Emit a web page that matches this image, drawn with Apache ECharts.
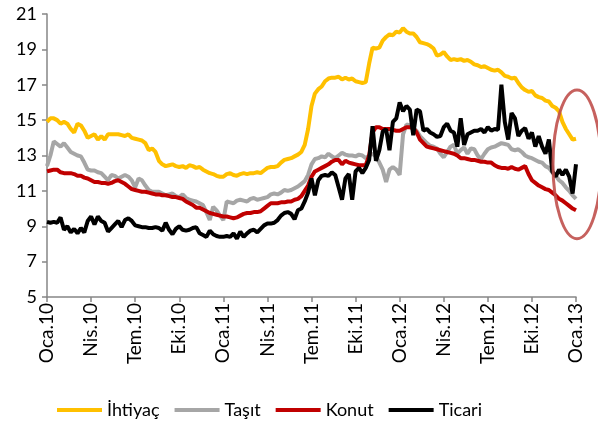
<!DOCTYPE html>
<html>
<head>
<meta charset="utf-8">
<script src="https://cdn.jsdelivr.net/npm/echarts@6/dist/echarts.min.js"></script>
<style>
  html, body { margin: 0; padding: 0; background: #fff; }
  #chart { width: 598px; height: 423px; }
</style>
</head>
<body>
<div id="chart"></div>
<script>
// ceyrek etiketleri (her 13 haftada bir)
const quarterLabels = ["Oca.10", "Nis.10", "Tem.10", "Eki.10", "Oca.11", "Nis.11", "Tem.11",
  "Eki.11", "Oca.12", "Nis.12", "Tem.12", "Eki.12", "Oca.13"];

// haftalik veriler (157 hafta)
const ihtiyac = [
  14.9, 15.1, 15.1, 15.0, 14.8, 14.9, 14.8, 14.5, 14.3, 14.8, 14.7, 14.4, 14.0, 14.1, 14.2, 13.9,
  14.1, 13.9, 14.2, 14.2, 14.2, 14.2, 14.15, 14.1, 14.2, 14.0, 13.95, 13.9, 13.85, 13.7, 13.3, 13.4,
  13.2, 12.7, 12.5, 12.4, 12.45, 12.5, 12.4, 12.35, 12.4, 12.3, 12.45, 12.4, 12.3, 12.35, 12.2, 12.1,
  12.0, 11.95, 11.85, 11.8, 11.8, 11.95, 12.0, 11.9, 11.85, 11.95, 12.0, 11.95, 12.0, 12.0, 12.05, 12.0,
  12.15, 12.3, 12.35, 12.35, 12.4, 12.6, 12.75, 12.8, 12.85, 12.95, 13.05, 13.2, 13.6, 14.5, 15.8, 16.5,
  16.75, 16.9, 17.2, 17.35, 17.4, 17.4, 17.45, 17.3, 17.4, 17.3, 17.35, 17.2, 17.15, 17.1, 17.15, 18.2,
  19.1, 19.05, 19.1, 19.5, 19.7, 19.85, 19.8, 20.0, 19.95, 20.2, 20.0, 19.9, 19.9, 19.7, 19.4, 19.35,
  19.3, 19.2, 19.05, 18.65, 18.7, 18.85, 18.6, 18.4, 18.45, 18.4, 18.45, 18.35, 18.4, 18.3, 18.15, 18.1,
  18.0, 18.05, 17.95, 17.85, 17.8, 17.85, 17.7, 17.5, 17.45, 17.35, 17.4, 17.1, 16.85, 16.7, 16.6, 16.65,
  16.4, 16.3, 16.25, 16.1, 16.05, 15.8, 15.7, 15.5, 14.9, 14.5, 14.2, 13.9, 13.95
];
const tasit = [
  12.4, 13.0, 13.8, 13.65, 13.5, 13.7, 13.45, 13.2, 13.1, 13.0, 12.95, 12.6, 12.2, 12.15, 12.15, 12.05,
  12.0, 11.8, 11.6, 11.9, 11.85, 11.7, 11.8, 11.9, 11.8, 11.6, 11.2, 11.7, 11.6, 11.3, 11.05, 10.95,
  10.95, 10.95, 10.85, 10.75, 10.8, 10.85, 10.7, 10.65, 10.8, 10.6, 10.5, 10.45, 10.4, 10.3, 10.2, 9.8,
  9.35, 10.1, 9.9, 9.6, 9.35, 10.4, 10.35, 10.3, 10.45, 10.5, 10.45, 10.4, 10.55, 10.6, 10.5, 10.55,
  10.6, 10.65, 10.8, 10.85, 10.8, 10.9, 11.05, 11.0, 11.05, 11.15, 11.25, 11.4, 11.55, 11.9, 12.5, 12.8,
  12.85, 12.95, 12.9, 13.1, 12.95, 12.85, 13.0, 13.15, 13.05, 13.0, 13.0, 12.95, 13.05, 13.0, 12.85, 13.0,
  13.1, 12.95, 12.6, 12.2, 11.5, 12.2, 12.35, 12.2, 11.9, 14.2, 14.75, 14.7, 14.55, 14.4, 14.1, 13.9,
  13.7, 13.55, 13.5, 13.4, 13.1, 12.9, 13.2, 13.5, 13.6, 13.1, 13.3, 13.45, 13.1, 13.4, 13.35, 13.0,
  12.8, 13.1, 13.35, 13.45, 13.5, 13.6, 13.7, 13.65, 13.6, 13.35, 13.3, 13.35, 13.2, 13.0, 12.9, 12.85,
  12.75, 12.65, 12.6, 12.4, 12.3, 12.05, 11.85, 11.6, 11.45, 11.2, 11.0, 10.75, 10.55
];
const konut = [
  12.1, 12.15, 12.2, 12.2, 12.05, 12.0, 12.0, 12.0, 11.95, 11.85, 11.85, 11.75, 11.7, 11.6, 11.5, 11.5,
  11.45, 11.45, 11.4, 11.45, 11.55, 11.6, 11.5, 11.4, 11.25, 11.1, 11.05, 11.0, 10.95, 10.95, 10.9, 10.85,
  10.8, 10.8, 10.75, 10.75, 10.7, 10.65, 10.65, 10.6, 10.55, 10.4, 10.3, 10.2, 10.05, 10.05, 9.95, 9.85,
  9.75, 9.7, 9.65, 9.6, 9.55, 9.55, 9.5, 9.45, 9.5, 9.6, 9.7, 9.75, 9.75, 9.8, 9.8, 9.85,
  10.0, 10.15, 10.3, 10.3, 10.3, 10.35, 10.35, 10.4, 10.4, 10.5, 10.55, 10.7, 11.0, 11.3, 11.8, 12.1,
  12.2, 12.3, 12.4, 12.5, 12.65, 12.75, 12.75, 12.5, 12.7, 12.6, 12.55, 12.5, 12.45, 12.45, 12.45, 13.0,
  14.3, 14.6, 14.6, 14.5, 14.5, 14.5, 14.45, 14.4, 14.4, 14.5, 14.6, 14.6, 14.55, 14.3, 13.9, 13.7,
  13.5, 13.45, 13.4, 13.35, 13.3, 13.25, 13.2, 13.15, 13.1, 13.0, 12.85, 12.85, 12.8, 12.75, 12.75, 12.7,
  12.65, 12.65, 12.6, 12.6, 12.45, 12.35, 12.3, 12.3, 12.25, 12.35, 12.25, 12.2, 12.3, 12.4, 11.95, 11.6,
  11.45, 11.3, 11.2, 11.1, 11.05, 10.9, 10.75, 10.55, 10.45, 10.3, 10.15, 10.0, 9.9
];
const ticari = [
  9.25, 9.2, 9.25, 9.2, 9.5, 8.8, 9.0, 8.65, 8.85, 8.6, 8.9, 8.65, 9.3, 9.55, 9.1, 9.55,
  9.3, 9.2, 8.7, 8.9, 9.1, 9.3, 8.95, 9.35, 9.45, 9.3, 9.05, 9.0, 8.95, 8.95, 8.9, 8.9,
  8.95, 8.9, 8.75, 9.2, 8.8, 8.55, 8.85, 9.0, 8.8, 8.75, 8.8, 8.9, 8.95, 8.6, 8.5, 8.4,
  8.75, 8.55, 8.45, 8.4, 8.4, 8.45, 8.4, 8.6, 8.3, 8.7, 8.4, 8.6, 8.75, 8.8, 8.65, 8.85,
  9.05, 9.15, 9.15, 9.2, 9.35, 9.6, 9.75, 9.8, 9.7, 9.4, 9.9, 10.0, 10.4, 10.9, 11.7, 10.75,
  11.6, 11.85, 11.9, 11.85, 12.05, 11.9, 11.2, 10.5, 11.7, 11.95, 10.5, 12.1, 12.3, 12.0, 12.3, 12.75,
  14.65, 12.7, 13.3, 14.35, 14.5, 13.3, 14.9, 15.1, 16.0, 15.5, 15.8, 15.6, 14.15, 15.6, 15.5, 14.4,
  14.5, 14.3, 14.2, 14.05, 14.1, 14.6, 14.8, 14.4, 14.3, 13.5, 15.1, 13.6, 14.2, 14.3, 14.4, 14.4,
  14.5, 14.3, 14.6, 14.4, 14.5, 14.45, 17.0, 14.9, 13.9, 15.4, 15.1, 14.1, 14.4, 14.55, 13.95, 14.3,
  13.5, 14.1, 13.5, 13.1, 13.9, 12.1, 11.8, 12.2, 11.9, 12.2, 11.8, 10.85, 12.5
];

const weeks = ihtiyac.map((v, i) => (i % 13 === 0 ? quarterLabels[i / 13] : ""));
const isQuarter = (i) => i % 13 === 0;

const font = "Lato, 'Open Sans', sans-serif";
const myChart = echarts.init(document.getElementById("chart"));

function lineSeries(name, data, color) {
  return {
    name: name,
    type: "line",
    data: data,
    symbol: "none",
    lineStyle: { color: color, width: 4 },
    itemStyle: { color: color },
  };
}

myChart.setOption({
  animation: false,
  textStyle: { fontFamily: font },
  grid: { left: 47, right: 22, top: 14, bottom: 126 },
  legend: {
    top: 396,
    left: 52,
    icon: "rect",
    itemWidth: 45,
    itemHeight: 4,
    itemGap: 15,
    textStyle: { fontSize: 18, color: "#000", fontFamily: font },
    data: ["İhtiyaç", "Taşıt", "Konut", "Ticari"],
  },
  xAxis: {
    type: "category",
    boundaryGap: false,
    data: weeks,
    axisLine: { lineStyle: { color: "#868686", width: 1.5 } },
    axisTick: { interval: isQuarter, length: 5, lineStyle: { color: "#868686", width: 1.5 } },
    axisLabel: {
      interval: isQuarter,
      rotate: 90,
      fontSize: 19,
      color: "#000",
      margin: 6,
      fontFamily: font,
    },
  },
  yAxis: {
    type: "value",
    min: 5,
    max: 21,
    interval: 2,
    splitLine: { show: false },
    axisLine: { show: true, lineStyle: { color: "#868686", width: 1.5 } },
    axisTick: { show: true, length: 5, lineStyle: { color: "#868686", width: 1.5 } },
    axisLabel: { fontSize: 18, color: "#000", margin: 10, fontFamily: font },
  },
  series: [
    lineSeries("İhtiyaç", ihtiyac, "#FFC000"),
    lineSeries("Taşıt", tasit, "#A6A6A6"),
    lineSeries("Konut", konut, "#C00000"),
    lineSeries("Ticari", ticari, "#000000"),
  ],
});

// son haftayi isaretleyen elips
const lastIdx = weeks.length - 1;
const center = myChart.convertToPixel({ xAxisIndex: 0, yAxisIndex: 0 }, [lastIdx, 12.5]);
const upper = myChart.convertToPixel({ xAxisIndex: 0, yAxisIndex: 0 }, [lastIdx, 16.7]);
myChart.setOption({
  graphic: [{
    type: "ellipse",
    shape: { cx: center[0] + 1, cy: center[1], rx: 24, ry: center[1] - upper[1] },
    style: { fill: "none", stroke: "#C0504D", lineWidth: 3, opacity: 0.9 },
    z: 10,
  }],
});
</script>
</body>
</html>
